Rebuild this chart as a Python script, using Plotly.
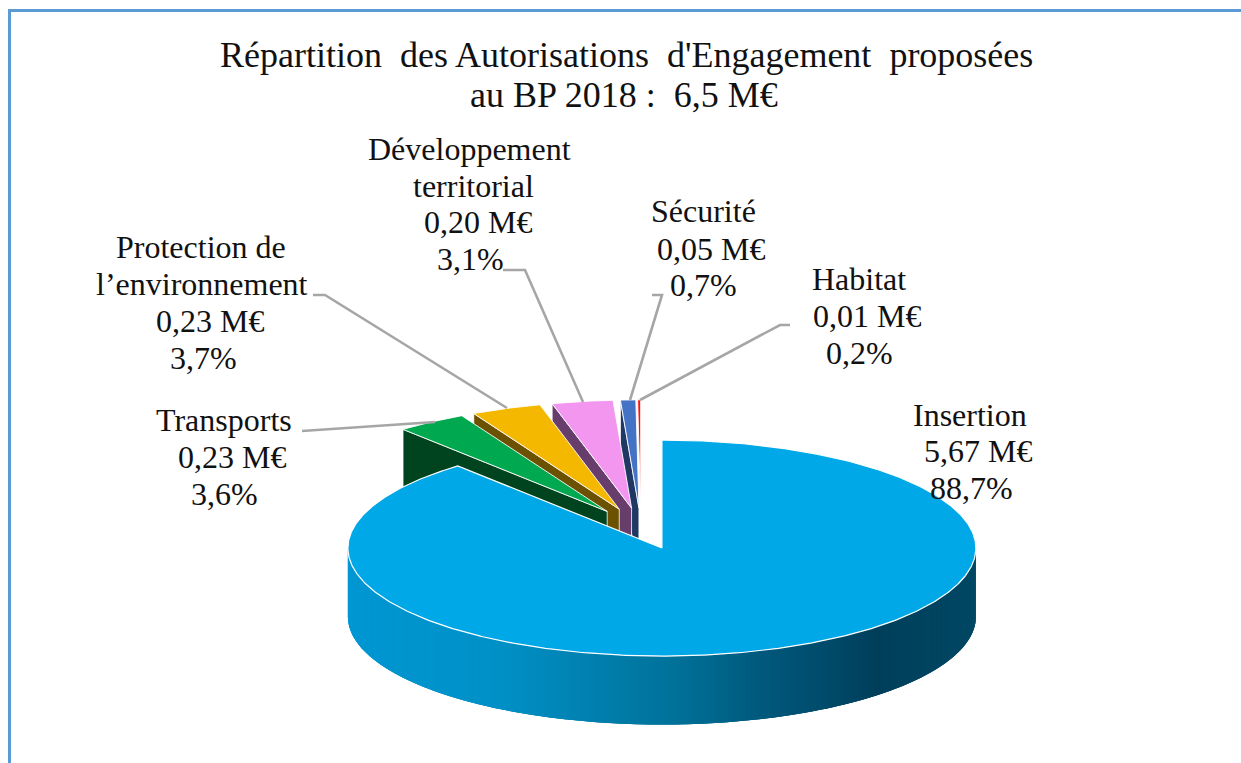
import math
import plotly.graph_objects as go

# ---- data ----
categories = ["Insertion", "Transports", "Protection de l’environnement",
              "Développement territorial", "Sécurité", "Habitat"]
amounts_meur = [5.67, 0.23, 0.23, 0.20, 0.05, 0.01]
amount_labels = ["5,67 M€", "0,23 M€", "0,23 M€", "0,20 M€", "0,05 M€", "0,01 M€"]
percent_labels = ["88,7%", "3,6%", "3,7%", "3,1%", "0,7%", "0,2%"]
chart_title = ["Répartition\u00a0 des Autorisations\u00a0 d'Engagement\u00a0 proposées",
               "au BP 2018 :\u00a0 6,5 M€"]

# ---- styles ----
top_colors = ["#00A8E8", "#00A84F", "#F5B800", "#F396F0", "#4472C4", "#FF1010"]
wall_colors = [None, "#00431F", "#6B5100", "#663D6B", "#1F3864", None]
gradient_stops = [(347, (0, 151, 211)), (501, (0, 144, 198)), (672, (0, 114, 154)),
                  (757, (0, 90, 126)), (877, (0, 63, 91)), (976, (0, 72, 101))]

# ---- projection of the tilted, exploded pie onto the page ----
CX, CY, RX, RY, DEPTH, EXPLODE = 641, 528.6, 314, 108, 68.5, 0.192
total = sum(amounts_meur)
edges = [0.0]
for a in amounts_meur:
    edges.append(edges[-1] + a / total * 360)


def project(th, apex, r=1.0):
    t = math.radians(th)
    return apex[0] + r * RX * math.sin(t), apex[1] - r * RY * math.cos(t)


def apex_of(i):
    mid = math.radians((edges[i] + edges[i + 1]) / 2)
    return CX + EXPLODE * RX * math.sin(mid), CY - EXPLODE * RY * math.cos(mid)


def grad(x):
    for (x0, c0), (x1, c1) in zip(gradient_stops, gradient_stops[1:]):
        if x <= x1:
            f = max(0.0, (x - x0) / (x1 - x0))
            return "rgb(%d,%d,%d)" % tuple(round(a + (b - a) * f) for a, b in zip(c0, c1))
    return "rgb(%d,%d,%d)" % gradient_stops[-1][1]


fig = go.Figure()


def poly(xs, ys, fill, line=None, width=1.0):
    fig.add_trace(go.Scatter(
        x=xs, y=ys, mode="lines", fill="toself", fillcolor=fill,
        line=dict(color=line or fill, width=width if line else 0),
        hoverinfo="skip", showlegend=False))


def sector(i):
    ax = apex_of(i)
    n = max(2, int(edges[i + 1] - edges[i]) * 2)
    pts = [project(edges[i] + (edges[i + 1] - edges[i]) * k / n, ax) for k in range(n + 1)]
    return [ax[0]] + [p[0] for p in pts] + [ax[0]], [ax[1]] + [p[1] for p in pts] + [ax[1]]


# small slices, from the back to the front
for i in range(5, 0, -1):
    ax = apex_of(i)
    ox, oy = project(edges[i], ax)
    if wall_colors[i]:
        poly([ox, ax[0], ax[0], ox, ox], [oy, ax[1], ax[1] + DEPTH, oy + DEPTH, oy],
             wall_colors[i], "#FFFFFF", 0.8)
    xs, ys = sector(i)
    poly(xs, ys, top_colors[i], "#FFFFFF", 0.9)

# main slice: gradient wall painted strip by strip, each strip overlapping the next
ax0 = apex_of(0)
STEPS = 360
for k in range(STEPS):
    d0 = 90 + k * 180 / STEPS
    d1 = min(270, d0 + 1.5)
    x0, y0 = project(d0, ax0)
    x1, y1 = project(d0 + 0.5, ax0)
    x2, y2 = project(d1, ax0)
    poly([x0, x2, x2, x0, x0], [y0, y2, y2 + DEPTH, y0 + DEPTH, y0], grad((x0 + x1) / 2))
xs, ys = sector(0)
poly(xs, ys, top_colors[0], "#FFFFFF", 1.2)

# ---- leader lines (page furniture) ----
leaders = [
    [(302, 431), (435, 422)],
    [(313, 295), (325, 295), (507, 408)],
    [(503, 270), (525, 270), (583, 402)],
    [(652, 295), (662, 295), (630, 400)],
    [(790, 325), (780, 325), (640, 400)],
]
for pts in leaders:
    fig.add_trace(go.Scatter(x=[p[0] for p in pts], y=[p[1] for p in pts], mode="lines",
                             line=dict(color="#A6A6A6", width=2.6),
                             hoverinfo="skip", showlegend=False))

# frame
fig.add_trace(go.Scatter(x=[9.5, 9.5, 1241], y=[763, 10.5, 10.5], mode="lines",
                         line=dict(color="#5B9BD5", width=3),
                         hoverinfo="skip", showlegend=False))

# ---- text ----
label_lines = [
    (categories[0], 912, 415), (amount_labels[0], 923, 451), (percent_labels[0], 929, 488),
    (categories[1], 155, 420), (amount_labels[1], 177, 457), (percent_labels[1], 190, 494),
    ("Protection de", 115, 247), ("l’environnement", 95, 284),
    (amount_labels[2], 155, 321), (percent_labels[2], 169, 358),
    ("Développement", 367, 149), ("territorial", 412, 186),
    (amount_labels[3], 423, 222), (percent_labels[3], 436, 259),
    (categories[4], 650, 211), (amount_labels[4], 656, 249), (percent_labels[4], 669, 285),
    (categories[5], 811, 279), (amount_labels[5], 812, 316), (percent_labels[5], 825, 353),
]
title_lines = [(chart_title[0], 219, 55), (chart_title[1], 469, 95)]
FONT = dict(family="Liberation Serif", size=32, color="#111111")
TITLE_FONT = dict(family="Liberation Serif", size=36, color="#111111")
annotations = [dict(x=x, y=y, text=t, xref="x", yref="y", xanchor="left", yanchor="middle",
                    showarrow=False, font=FONT, borderpad=0)
               for t, x, y in label_lines]
annotations += [dict(x=x, y=y, text=t, xref="x", yref="y", xanchor="left", yanchor="middle",
                     showarrow=False, font=TITLE_FONT, borderpad=0)
                for t, x, y in title_lines]

fig.update_layout(
    width=1241, height=763, margin=dict(l=0, r=0, t=0, b=0),
    paper_bgcolor="#FFFFFF", plot_bgcolor="#FFFFFF", showlegend=False,
    xaxis=dict(range=[0, 1241], visible=False, fixedrange=True),
    yaxis=dict(range=[763, 0], visible=False, fixedrange=True),
    annotations=annotations,
)
fig.write_html("out.html", config={"displayModeBar": False},
               post_script="document.body.style.margin='0';document.body.style.overflow='hidden';")
